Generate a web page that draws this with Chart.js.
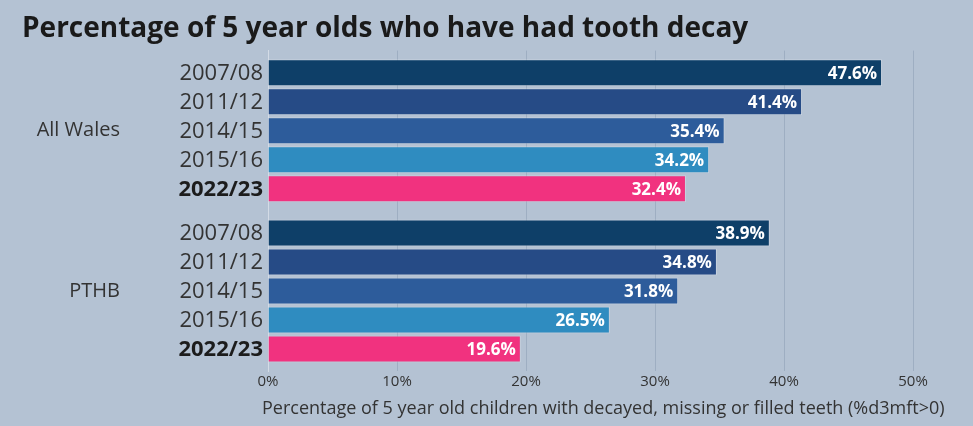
<!DOCTYPE html>
<html>
<head>
<meta charset="utf-8">
<script src="https://cdn.jsdelivr.net/npm/chart.js@4.4.1/dist/chart.umd.min.js"></script>
<style>
  html, body { margin: 0; padding: 0; background: #b4c2d3; }
  canvas { display: block; }
</style>
</head>
<body>
<canvas id="decayChart" width="973" height="426"></canvas>
<script>
// data
const regions = ['All Wales', 'PTHB'];
const years = ['2007/08', '2011/12', '2014/15', '2015/16', '2022/23'];
const allWales = [47.6, 41.4, 35.4, 34.2, 32.4];
const pthb = [38.9, 34.8, 31.8, 26.5, 19.6];
const xTicks = [0, 10, 20, 30, 40, 50];
const xTitle = 'Percentage of 5 year old children with decayed, missing or filled teeth (%d3mft>0)';

const yearColors = ['#0e3f68', '#264b86', '#2d5c9b', '#2f8cc0', '#f1327f'];
const FONT = "'Open Sans', 'Noto Sans', sans-serif";

// year label next to each bar + value label inside the bar end + x axis caption
const barLabels = {
  id: 'barLabels',
  afterDatasetsDraw(chart) {
    const ctx = chart.ctx;
    const area = chart.chartArea;
    ctx.save();
    ctx.textBaseline = 'middle';
    chart.data.datasets.forEach((ds, i) => {
      const meta = chart.getDatasetMeta(i);
      meta.data.forEach((bar, j) => {
        // year
        const bold = years[i] === '2022/23';
        ctx.font = (bold ? 'bold ' : '') + '22px ' + FONT;
        ctx.fillStyle = bold ? '#1c1c1c' : '#333333';
        ctx.textAlign = 'right';
        ctx.fillText(years[i], area.left - 5, bar.y + 1);
        // value
        ctx.font = 'bold 17px ' + FONT;
        ctx.fillStyle = '#ffffff';
        ctx.fillText(ds.data[j].toFixed(1) + '%', bar.x - 5, bar.y + 1);
      });
    });
    // caption under the x axis, slightly right of the plot centre like the original
    ctx.font = '18px ' + FONT;
    ctx.fillStyle = '#333333';
    ctx.textAlign = 'left';
    ctx.fillText(xTitle, area.left - 6, chart.height - 17);
    ctx.restore();
  }
};

new Chart('decayChart', {
  type: 'bar',
  data: {
    labels: regions,
    datasets: years.map((y, i) => ({
      label: y,
      data: [allWales[i], pthb[i]],
      backgroundColor: yearColors[i],
      borderColor: 'rgba(255,255,255,0.25)',
      borderWidth: 1,
      barPercentage: 0.93,
      categoryPercentage: 0.905
    }))
  },
  options: {
    indexAxis: 'y',
    responsive: false,
    animation: false,
    layout: { padding: { left: 22, right: 60, top: 0, bottom: 0 } },
    plugins: {
      legend: { display: false },
      tooltip: { enabled: false },
      title: {
        display: true,
        text: 'Percentage of 5 year olds who have had tooth decay',
        align: 'start',
        color: '#1a1a1a',
        font: { family: FONT, size: 28, weight: 'bold' },
        padding: { top: 12, bottom: 5 }
      }
    },
    scales: {
      x: {
        min: 0,
        max: 50,
        afterBuildTicks: (scale) => { scale.ticks = xTicks.map(v => ({ value: v })); },
        ticks: {
          callback: v => v + '%',
          color: '#333333',
          padding: 2,
          font: { family: FONT, size: 15 }
        },
        grid: { color: '#9eaec2', drawTicks: false },
        border: { display: false },
        afterFit: (scale) => { scale.height = 55; }
      },
      y: {
        grid: { display: false },
        border: { display: true, color: '#d3dbe6', width: 1 },
        ticks: {
          color: '#333333',
          padding: 140,
          font: { family: FONT, size: 20 }
        },
        afterFit: (scale) => {
          scale.width = 246;
          // big label gap should not push the plot down
          scale.paddingTop = 0;
          scale.paddingBottom = 0;
        }
      }
    }
  },
  plugins: [barLabels]
});
</script>
</body>
</html>
